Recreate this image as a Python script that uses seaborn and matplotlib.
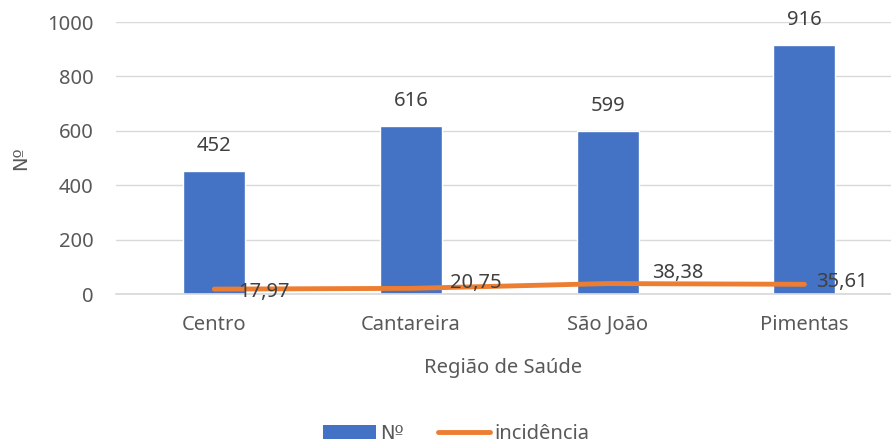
import matplotlib
matplotlib.use("Agg")
import matplotlib.pyplot as plt
import seaborn as sns
import pandas as pd
from matplotlib.patches import Patch
from matplotlib.lines import Line2D

categories = ["Centro", "Cantareira", "São João", "Pimentas"]
counts = [452, 616, 599, 916]
incidencia = [17.97, 20.75, 38.38, 35.61]
yticks = [0, 200, 400, 600, 800, 1000]

BLUE = "#4472C4"
ORANGE = "#ED7D31"
GRAY = "#595959"
DARK = "#404040"
FS = 14.5

sns.set_theme(style="white")
plt.rcParams["font.family"] = ["Noto Sans", "DejaVu Sans"]

df = pd.DataFrame({"regiao": categories, "n": counts, "inc": incidencia})

fig = plt.figure(figsize=(8.91, 4.45), dpi=100)
ax = fig.add_axes([116 / 891, 1 - 294 / 445, 1 - 116 / 891, (294 - 22) / 445])

sns.barplot(data=df, x="regiao", y="n", color=BLUE, width=0.315, ax=ax, saturation=1)
xs = list(range(len(categories)))
ax.plot(xs, incidencia, color=ORANGE, lw=3.5, solid_capstyle="round", zorder=4)

ax.set_ylim(0, 1000)
ax.set_xlim(-0.5, 3.44)
ax.set_yticks(yticks)
ax.set_yticklabels([str(v) for v in yticks])
ax.grid(axis="y", color="#D9D9D9", lw=1)
ax.set_axisbelow(True)
for s in ["top", "right", "left"]:
    ax.spines[s].set_visible(False)
ax.spines["bottom"].set_color("#D9D9D9")
ax.tick_params(axis="both", length=0, labelsize=FS, colors=GRAY)
ax.tick_params(axis="y", pad=16)
ax.tick_params(axis="x", pad=15)

ax.set_xlabel("Região de Saúde", fontsize=FS, color=GRAY, labelpad=17)
ax.set_ylabel("Nº", fontsize=FS - 0.5, color=GRAY, labelpad=12, family="DejaVu Sans")

# bar labels
for i, v in enumerate(counts):
    ax.annotate(str(v), (i, v), xytext=(0, 18), textcoords="offset points",
                ha="center", va="center", fontsize=FS, color=DARK)

# line labels
line_offsets = [(17, -2), (28, 3.6), (32, 7.6), (8, 1.5)]
for i, (v, off) in enumerate(zip(incidencia, line_offsets)):
    ax.annotate(f"{v:.2f}".replace(".", ","), (i, v), xytext=off, textcoords="offset points",
                ha="left", va="center", fontsize=FS, color=DARK, zorder=5)

handles = [Patch(facecolor=BLUE, edgecolor="none"),
           Line2D([0], [0], color=ORANGE, lw=3.5, solid_capstyle="round")]
leg = fig.legend(handles, ["Nº", "incidência"], loc="center", bbox_to_anchor=(0.512, 1 - 434 / 445),
                 ncol=2, frameon=False, fontsize=FS, labelcolor=GRAY, handlelength=2.6,
                 handletextpad=0.2, columnspacing=1.7, handleheight=0.75)
leg.get_texts()[0].set_fontfamily("DejaVu Sans")
leg.get_texts()[0].set_fontsize(FS - 0.5)

fig.savefig("out.png", dpi=100)
